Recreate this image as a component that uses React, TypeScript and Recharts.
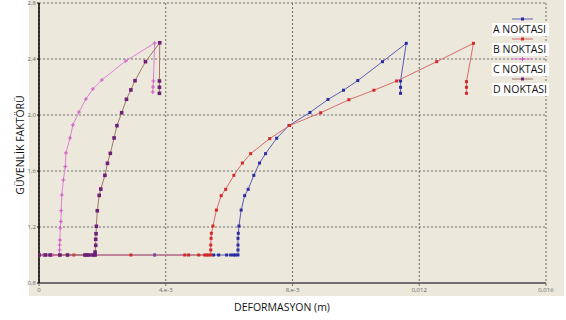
import React from 'react';
import { ScatterChart, Scatter, XAxis, YAxis, CartesianGrid, Legend } from 'recharts';

// A NOKTASI (deformation m, safety factor)
const seriesA = [
  { x: 0, y: 1.0 }, { x: 0.00365, y: 1.0 }, { x: 0.00551, y: 1.0 }, { x: 0.00567, y: 1.0 },
  { x: 0.00592, y: 1.0 }, { x: 0.00605, y: 1.0 }, { x: 0.00614, y: 1.0 }, { x: 0.0062, y: 1.0 },
  { x: 0.00628, y: 1.0 }, { x: 0.00628, y: 1.036 }, { x: 0.00628, y: 1.071 }, { x: 0.00628, y: 1.119 },
  { x: 0.00629, y: 1.155 }, { x: 0.00631, y: 1.207 }, { x: 0.00638, y: 1.321 }, { x: 0.00649, y: 1.424 },
  { x: 0.0066, y: 1.469 }, { x: 0.00678, y: 1.569 }, { x: 0.00696, y: 1.657 }, { x: 0.00715, y: 1.724 },
  { x: 0.0075, y: 1.834 }, { x: 0.00789, y: 1.925 }, { x: 0.00855, y: 2.018 }, { x: 0.00912, y: 2.111 },
  { x: 0.00961, y: 2.177 }, { x: 0.01006, y: 2.246 }, { x: 0.01084, y: 2.381 }, { x: 0.01159, y: 2.512 },
  { x: 0.01141, y: 2.243 }, { x: 0.01141, y: 2.198 }, { x: 0.01141, y: 2.155 },
];

// B NOKTASI
const seriesB = [
  { x: 0, y: 1.0 }, { x: 0.0011, y: 1.0 }, { x: 0.0029, y: 1.0 }, { x: 0.0046, y: 1.0 },
  { x: 0.00472, y: 1.0 }, { x: 0.00504, y: 1.0 }, { x: 0.00523, y: 1.0 }, { x: 0.00529, y: 1.0 },
  { x: 0.00535, y: 1.0 }, { x: 0.00542, y: 1.0 }, { x: 0.00542, y: 1.036 }, { x: 0.00542, y: 1.071 },
  { x: 0.00543, y: 1.119 }, { x: 0.00544, y: 1.155 }, { x: 0.00549, y: 1.207 }, { x: 0.0056, y: 1.321 },
  { x: 0.00575, y: 1.424 }, { x: 0.00589, y: 1.469 }, { x: 0.00615, y: 1.569 }, { x: 0.00642, y: 1.657 },
  { x: 0.00668, y: 1.724 }, { x: 0.00728, y: 1.831 }, { x: 0.00791, y: 1.925 }, { x: 0.00889, y: 2.016 },
  { x: 0.00978, y: 2.109 }, { x: 0.01057, y: 2.177 }, { x: 0.01129, y: 2.243 }, { x: 0.01255, y: 2.381 },
  { x: 0.01371, y: 2.512 }, { x: 0.01349, y: 2.238 }, { x: 0.01349, y: 2.198 }, { x: 0.01349, y: 2.155 },
];

// C NOKTASI
const seriesC = [
  { x: 0, y: 1.0 }, { x: 0.00013, y: 1.0 }, { x: 0.00025, y: 1.0 }, { x: 0.00038, y: 1.0 },
  { x: 0.00044, y: 1.0 }, { x: 0.00064, y: 1.0 }, { x: 0.00065, y: 1.036 }, { x: 0.00065, y: 1.071 },
  { x: 0.00066, y: 1.107 }, { x: 0.00067, y: 1.193 }, { x: 0.00069, y: 1.238 }, { x: 0.0007, y: 1.316 },
  { x: 0.00072, y: 1.429 }, { x: 0.00077, y: 1.536 }, { x: 0.00083, y: 1.631 }, { x: 0.00085, y: 1.729 },
  { x: 0.00098, y: 1.836 }, { x: 0.00107, y: 1.929 }, { x: 0.00126, y: 2.021 }, { x: 0.00148, y: 2.114 },
  { x: 0.0017, y: 2.186 }, { x: 0.00198, y: 2.25 }, { x: 0.00274, y: 2.386 }, { x: 0.00365, y: 2.514 },
  { x: 0.00361, y: 2.243 }, { x: 0.0036, y: 2.2 }, { x: 0.00359, y: 2.164 },
];

// D NOKTASI
const seriesD = [
  { x: 0, y: 1.0 }, { x: 0.0002, y: 1.0 }, { x: 0.00035, y: 1.0 }, { x: 0.00066, y: 1.0 },
  { x: 0.0009, y: 1.0 }, { x: 0.00145, y: 1.0 }, { x: 0.00151, y: 1.0 }, { x: 0.00158, y: 1.0 },
  { x: 0.0017, y: 1.0 }, { x: 0.00177, y: 1.0 }, { x: 0.00177, y: 1.021 }, { x: 0.00179, y: 1.069 },
  { x: 0.00179, y: 1.112 }, { x: 0.0018, y: 1.152 }, { x: 0.00181, y: 1.205 }, { x: 0.00184, y: 1.316 },
  { x: 0.0019, y: 1.426 }, { x: 0.00195, y: 1.471 }, { x: 0.00208, y: 1.569 }, { x: 0.00216, y: 1.655 },
  { x: 0.00225, y: 1.726 }, { x: 0.00237, y: 1.836 }, { x: 0.00246, y: 1.924 }, { x: 0.00261, y: 2.016 },
  { x: 0.00276, y: 2.112 }, { x: 0.0029, y: 2.179 }, { x: 0.00303, y: 2.245 }, { x: 0.00336, y: 2.381 },
  { x: 0.00381, y: 2.516 }, { x: 0.0038, y: 2.243 }, { x: 0.0038, y: 2.198 }, { x: 0.0038, y: 2.155 },
];

const seriesNames = ['A NOKTASI', 'B NOKTASI', 'C NOKTASI', 'D NOKTASI'];
const xTicks = [0, 0.004, 0.008, 0.012, 0.016];
const xTickLabels = ['0', '4,e-3', '8,e-3', '0,012', '0,016'];
const yTicks = [0.8, 1.2, 1.6, 2.0, 2.4, 2.8];
const yTickLabels = ['0,8', '1,2', '1,6', '2,0', '2,4', '2,8'];

const styles = [
  { line: '#5b5bb6', marker: '#2b2ba2', kind: 'square', size: 3 },
  { line: '#d96b6b', marker: '#d42828', kind: 'square', size: 3 },
  { line: '#e07fd8', marker: '#cf5cc6', kind: 'plus', size: 4 },
  { line: '#a37565', marker: '#6e1f78', kind: 'square', size: 3.6 },
];

const FONT = '"Open Sans", "Liberation Sans", sans-serif';

function makeShape(i: number) {
  const s = styles[i];
  return (props: any) => {
    const { cx, cy } = props;
    if (cx == null || cy == null) return <g />;
    if (s.kind === 'plus') {
      const h = s.size / 2;
      return (
        <g>
          <line x1={cx - h} x2={cx + h} y1={cy} y2={cy} stroke={s.marker} strokeWidth={1} />
          <line x1={cx} x2={cx} y1={cy - h} y2={cy + h} stroke={s.marker} strokeWidth={1} />
        </g>
      );
    }
    return <rect x={cx - s.size / 2} y={cy - s.size / 2} width={s.size} height={s.size} fill={s.marker} />;
  };
}

function LegendMarker({ i }: { i: number }) {
  const s = styles[i];
  const cx = 10.5;
  const cy = 3;
  return (
    <svg width={22} height={6} style={{ position: 'absolute', left: 24, top: 4 + 20 * i }}>
      <line x1={0} x2={21} y1={cy} y2={cy} stroke={s.line} strokeWidth={1} />
      {s.kind === 'plus' ? (
        <g>
          <line x1={cx - 2} x2={cx + 2} y1={cy} y2={cy} stroke={s.marker} />
          <line x1={cx} x2={cx} y1={cy - 2} y2={cy + 2} stroke={s.marker} />
        </g>
      ) : (
        <rect x={cx - 1.5} y={cy - 1.5} width={3} height={3} fill={s.marker} />
      )}
    </svg>
  );
}

const renderLegend = () => (
  <div style={{ position: 'relative', width: 75, height: 90 }}>
    {seriesNames.map((name, i) => (
      <React.Fragment key={name}>
        <LegendMarker i={i} />
        <div
          style={{
            position: 'absolute',
            left: 4,
            top: 11 + 20 * i,
            width: 57,
            height: 13,
            background: '#ffffff',
            fontFamily: FONT,
            fontSize: 10.5,
            lineHeight: '13px',
            color: '#111',
            paddingLeft: 1,
            boxSizing: 'border-box',
            whiteSpace: 'nowrap',
            textAlign: 'left',
          }}
        >
          {name}
        </div>
      </React.Fragment>
    ))}
  </div>
);

const fmtX = (v: number) => {
  const i = xTicks.findIndex((t) => Math.abs(t - v) < 1e-9);
  return i >= 0 ? xTickLabels[i] : String(v);
};
const fmtY = (v: number) => {
  const i = yTicks.findIndex((t) => Math.abs(t - v) < 1e-9);
  return i >= 0 ? yTickLabels[i] : String(v);
};

const allSeries = [seriesA, seriesB, seriesC, seriesD];

export default function App() {
  return (
    <div style={{ position: 'absolute', left: 0, top: 0, width: 566, height: 320, background: '#ffffff' }}>
      <div style={{ position: 'absolute', left: 29, top: 0, width: 535, height: 296, background: '#ece9dc' }} />
      <div style={{ position: 'absolute', left: 0, top: 0 }}>
        <ScatterChart width={566} height={320} margin={{ top: 3, right: 20, bottom: 7, left: 9 }}>
          <CartesianGrid stroke="#6a6a6a" strokeDasharray="2 2" strokeWidth={1} />
          <XAxis
            type="number"
            dataKey="x"
            domain={[0, 0.016]}
            ticks={xTicks}
            tickFormatter={fmtX}
            height={30}
            allowDataOverflow
            axisLine={{ stroke: '#6e6e6e', strokeWidth: 2 }}
            tickLine={{ stroke: '#6e6e6e' }}
            tickSize={3}
            tickMargin={2}
            tick={{ fontSize: 6, fill: '#666', fontFamily: FONT }}
            interval={0}
          />
          <YAxis
            type="number"
            dataKey="y"
            domain={[0.8, 2.8]}
            ticks={yTicks}
            tickFormatter={fmtY}
            width={30}
            allowDataOverflow
            axisLine={{ stroke: '#000', strokeWidth: 1.5 }}
            tickLine={{ stroke: '#000' }}
            tickSize={2}
            tickMargin={1}
            tick={{ fontSize: 6, fill: '#666', fontFamily: FONT }}
            interval={0}
          />
          <Legend
            layout="horizontal"
            verticalAlign="middle"
            align="center"
            content={renderLegend}
            wrapperStyle={{ left: 488, top: 12, width: 75, height: 90 }}
          />
          {allSeries.map((data, i) => (
            <Scatter
              key={seriesNames[i]}
              name={seriesNames[i]}
              data={data}
              fill={styles[i].marker}
              line={{ stroke: styles[i].line, strokeWidth: 1 }}
              lineType="joint"
              shape={makeShape(i)}
              isAnimationActive={false}
            />
          ))}
        </ScatterChart>
      </div>
      <div
        style={{
          position: 'absolute',
          left: 20,
          top: 145,
          transform: 'translate(-50%, -50%) rotate(-90deg)',
          fontFamily: FONT,
          fontSize: 10.5,
          color: '#111',
          whiteSpace: 'nowrap',
        }}
      >
        GÜVENLİK FAKTÖRÜ
      </div>
      <div
        style={{
          position: 'absolute',
          left: 282,
          top: 307,
          transform: 'translate(-50%, -50%)',
          fontFamily: FONT,
          fontSize: 10.5,
          color: '#111',
          whiteSpace: 'nowrap',
        }}
      >
        DEFORMASYON (m)
      </div>
    </div>
  );
}
